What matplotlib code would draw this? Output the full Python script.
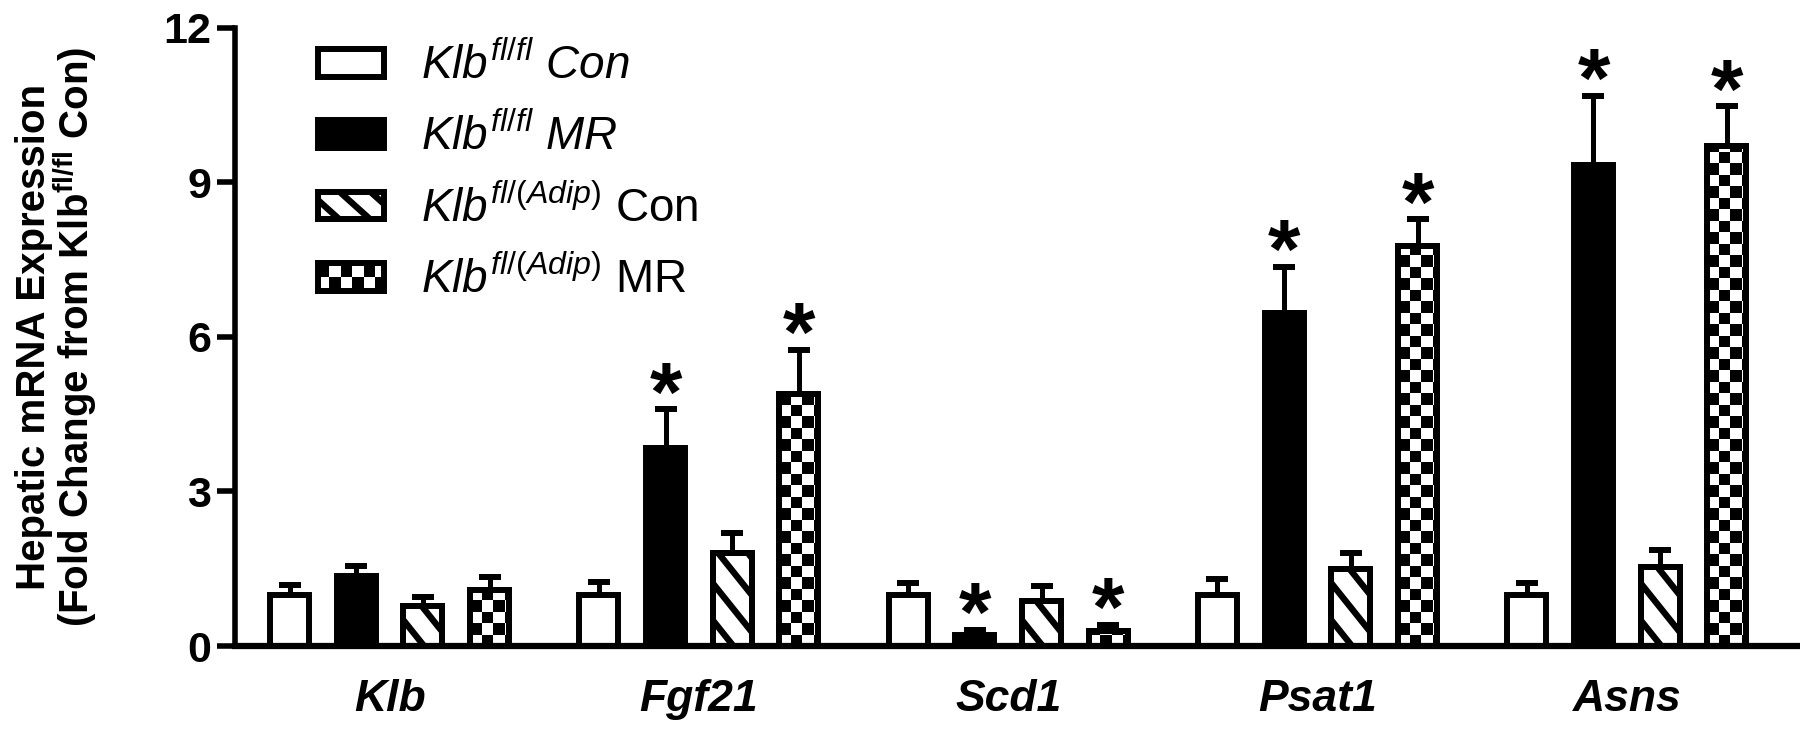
import numpy as np
import matplotlib
matplotlib.use("Agg")
import matplotlib.pyplot as plt
from matplotlib.patches import Rectangle, Patch
from matplotlib.collections import LineCollection, PolyCollection
from matplotlib.transforms import IdentityTransform
from matplotlib.legend_handler import HandlerBase

plt.rcParams['font.family'] = ['Liberation Sans', 'DejaVu Sans']
plt.rcParams['mathtext.fontset'] = 'custom'
plt.rcParams['mathtext.rm'] = 'Liberation Sans'
plt.rcParams['mathtext.it'] = 'Liberation Sans:italic'
plt.rcParams['mathtext.bf'] = 'Liberation Sans:bold'

# ---------------- data ----------------
genes = ['Klb', 'Fgf21', 'Scd1', 'Psat1', 'Asns']
group_labels = [r'$\mathit{Klb}^{\mathit{fl/fl}}\ \mathit{Con}$',
                r'$\mathit{Klb}^{\mathit{fl/fl}}\ \mathit{MR}$',
                r'$\mathit{Klb}^{\mathit{fl/(Adip)}}$ Con',
                r'$\mathit{Klb}^{\mathit{fl/(Adip)}}$ MR']
con_fl = [1.00, 1.00, 1.00, 1.00, 1.00]
con_fl_err = [0.18, 0.24, 0.22, 0.30, 0.22]
mr_fl = [1.36, 3.85, 0.22, 6.46, 9.33]
mr_fl_err = [0.20, 0.74, 0.10, 0.90, 1.34]
con_ad = [0.78, 1.80, 0.87, 1.49, 1.54]
con_ad_err = [0.18, 0.40, 0.30, 0.31, 0.33]
mr_ad = [1.09, 4.90, 0.29, 7.77, 9.71]
mr_ad_err = [0.25, 0.85, 0.12, 0.51, 0.76]
sig_mr_fl = [False, True, True, True, True]
sig_mr_ad = [False, True, True, True, True]
yticks = [0, 3, 6, 9, 12]

means = [con_fl, mr_fl, con_ad, mr_ad]
errs = [con_fl_err, mr_fl_err, con_ad_err, mr_ad_err]
sigs = [None, sig_mr_fl, None, sig_mr_ad]
styles = ['open', 'solid', 'stripe', 'check']

# ---------------- figure ----------------
DPI = 100
fig = plt.figure(figsize=(18, 7.35), dpi=DPI)
ax = fig.add_axes([0.1305, 0.121, 0.8695, 0.8415])
ax.set_xlim(-0.5, 4.56)
ax.set_ylim(0, 12)

EDGE_LW = 4.3
STRIPE_SP = 37.0   # px vertical period
STRIPE_SLOPE = 1.25
STRIPE_LW = 4.6
CELL = 11.5        # px checker cell


def stripe_segments(x0, y0, x1, y1, spacing, slope):
    w = x1 - x0
    segs = []
    b = y0 - spacing * 0.3
    while b < y1 + slope * w + spacing:
        segs.append([(x0 - 10, b + slope * 10), (x1 + 10, b - slope * (w + 10))])
        b += spacing
    return segs


def checker_polys(x0, y0, x1, y1, cell):
    polys = []
    nx = int(np.ceil((x1 - x0) / cell)) + 1
    ny = int(np.ceil((y1 - y0) / cell)) + 1
    for i in range(nx):
        for j in range(ny):
            if (i + j) % 2 == 1:
                cx, cy = x0 + i * cell, y0 + j * cell
                polys.append([(cx, cy), (cx + cell, cy), (cx + cell, cy + cell), (cx, cy + cell)])
    return polys


x = np.arange(len(genes))
offsets = [-1.5, -0.5, 0.5, 1.5]
step = 0.2156
width = 0.126

for k in range(4):
    xs = x + offsets[k] * step
    style = styles[k]
    ax.errorbar(xs, means[k], yerr=[np.zeros(len(xs)), errs[k]], fmt='none',
                ecolor='black', elinewidth=3.6, capsize=8, capthick=4.3, zorder=1.5)
    face = 'black' if style == 'solid' else 'white'
    bars = ax.bar(xs, means[k], width, color=face, edgecolor='black',
                  linewidth=EDGE_LW, zorder=2)
    if style in ('stripe', 'check'):
        for bar in bars:
            ext = bar.get_window_extent()
            if style == 'stripe':
                coll = LineCollection(stripe_segments(ext.x0, ext.y0, ext.x1, ext.y1,
                                                      STRIPE_SP, STRIPE_SLOPE),
                                      colors='black', linewidths=STRIPE_LW,
                                      transform=IdentityTransform(), zorder=2.1)
            else:
                coll = PolyCollection(checker_polys(ext.x0, ext.y0, ext.x1, ext.y1, CELL),
                                      facecolors='black', edgecolors='none',
                                      transform=IdentityTransform(), zorder=2.1)
            ax.add_collection(coll, autolim=False)
            coll.set_clip_path(bar.get_path(), bar.get_transform())
        ax.bar(xs, means[k], width, fill=False, edgecolor='black',
               linewidth=EDGE_LW, zorder=2.2)
    if sigs[k] is not None:
        for xi, m, e, s in zip(xs, means[k], errs[k], sigs[k]):
            if s:
                ax.annotate('*', xy=(xi, m + e), xytext=(0, -8), textcoords='offset points',
                            ha='center', va='baseline', fontsize=60, fontweight='bold')

# axes styling
for sp in ['top', 'right']:
    ax.spines[sp].set_visible(False)
ax.spines['left'].set_linewidth(4.0)
ax.spines['bottom'].set_linewidth(4.5)
ax.spines['left'].set_zorder(3)
ax.spines['bottom'].set_zorder(3)
ax.set_yticks(yticks)
ax.set_yticklabels([str(t) for t in yticks], fontsize=31, fontweight='bold')
ax.tick_params(axis='y', length=13, width=4.0, pad=4)
ax.set_xticks(x)
ax.set_xticklabels(genes, fontsize=32, fontweight='bold', fontstyle='italic')
ax.tick_params(axis='x', length=0, pad=24)
ax.set_ylabel('Hepatic mRNA Expression\n(Fold Change from Klb$^{\\mathbf{fl/fl}}$ Con)',
              fontsize=29, fontweight='bold', linespacing=0.92)
ax.yaxis.set_label_coords(-0.087, 0.5)


# ---------------- legend ----------------
class PatternHandler(HandlerBase):
    def __init__(self, kind):
        super().__init__()
        self.kind = kind

    def create_artists(self, legend, orig_handle, xdescent, ydescent, width, height,
                       fontsize, trans):
        x0, y0 = -xdescent, -ydescent
        face = 'black' if self.kind == 'solid' else 'white'
        base = Rectangle((x0, y0), width, height, facecolor=face, edgecolor='none',
                         transform=trans)
        arts = [base]
        pt = 72.0 / DPI
        if self.kind == 'stripe':
            lc = LineCollection(stripe_segments(x0, y0, x0 + width, y0 + height,
                                                STRIPE_SP * pt * 0.75, 0.9),
                                colors='black', linewidths=STRIPE_LW, transform=trans)
            lc.set_clip_path(base)
            arts.append(lc)
        elif self.kind == 'check':
            c = CELL * pt
            pc = PolyCollection(checker_polys(x0, y0 + height / 2 - c, x0 + width,
                                              y0 + height, c),
                                facecolors='black', edgecolors='none', transform=trans)
            pc.set_clip_path(base)
            arts.append(pc)
        edge = Rectangle((x0, y0), width, height, fill=False, edgecolor='black',
                         linewidth=EDGE_LW, transform=trans)
        arts.append(edge)
        return arts


proxies = [Patch(label=l) for l in group_labels]
hmap = {p: PatternHandler(s) for p, s in zip(proxies, styles)}
leg = ax.legend(handles=proxies, handler_map=hmap, loc='upper left',
                bbox_to_anchor=(0.053, 0.974), frameon=False, fontsize=33,
                handlelength=1.45, handleheight=0.55, handletextpad=0.8,
                labelspacing=0.57, borderpad=0, borderaxespad=0)

fig.savefig('out.png', dpi=DPI)
